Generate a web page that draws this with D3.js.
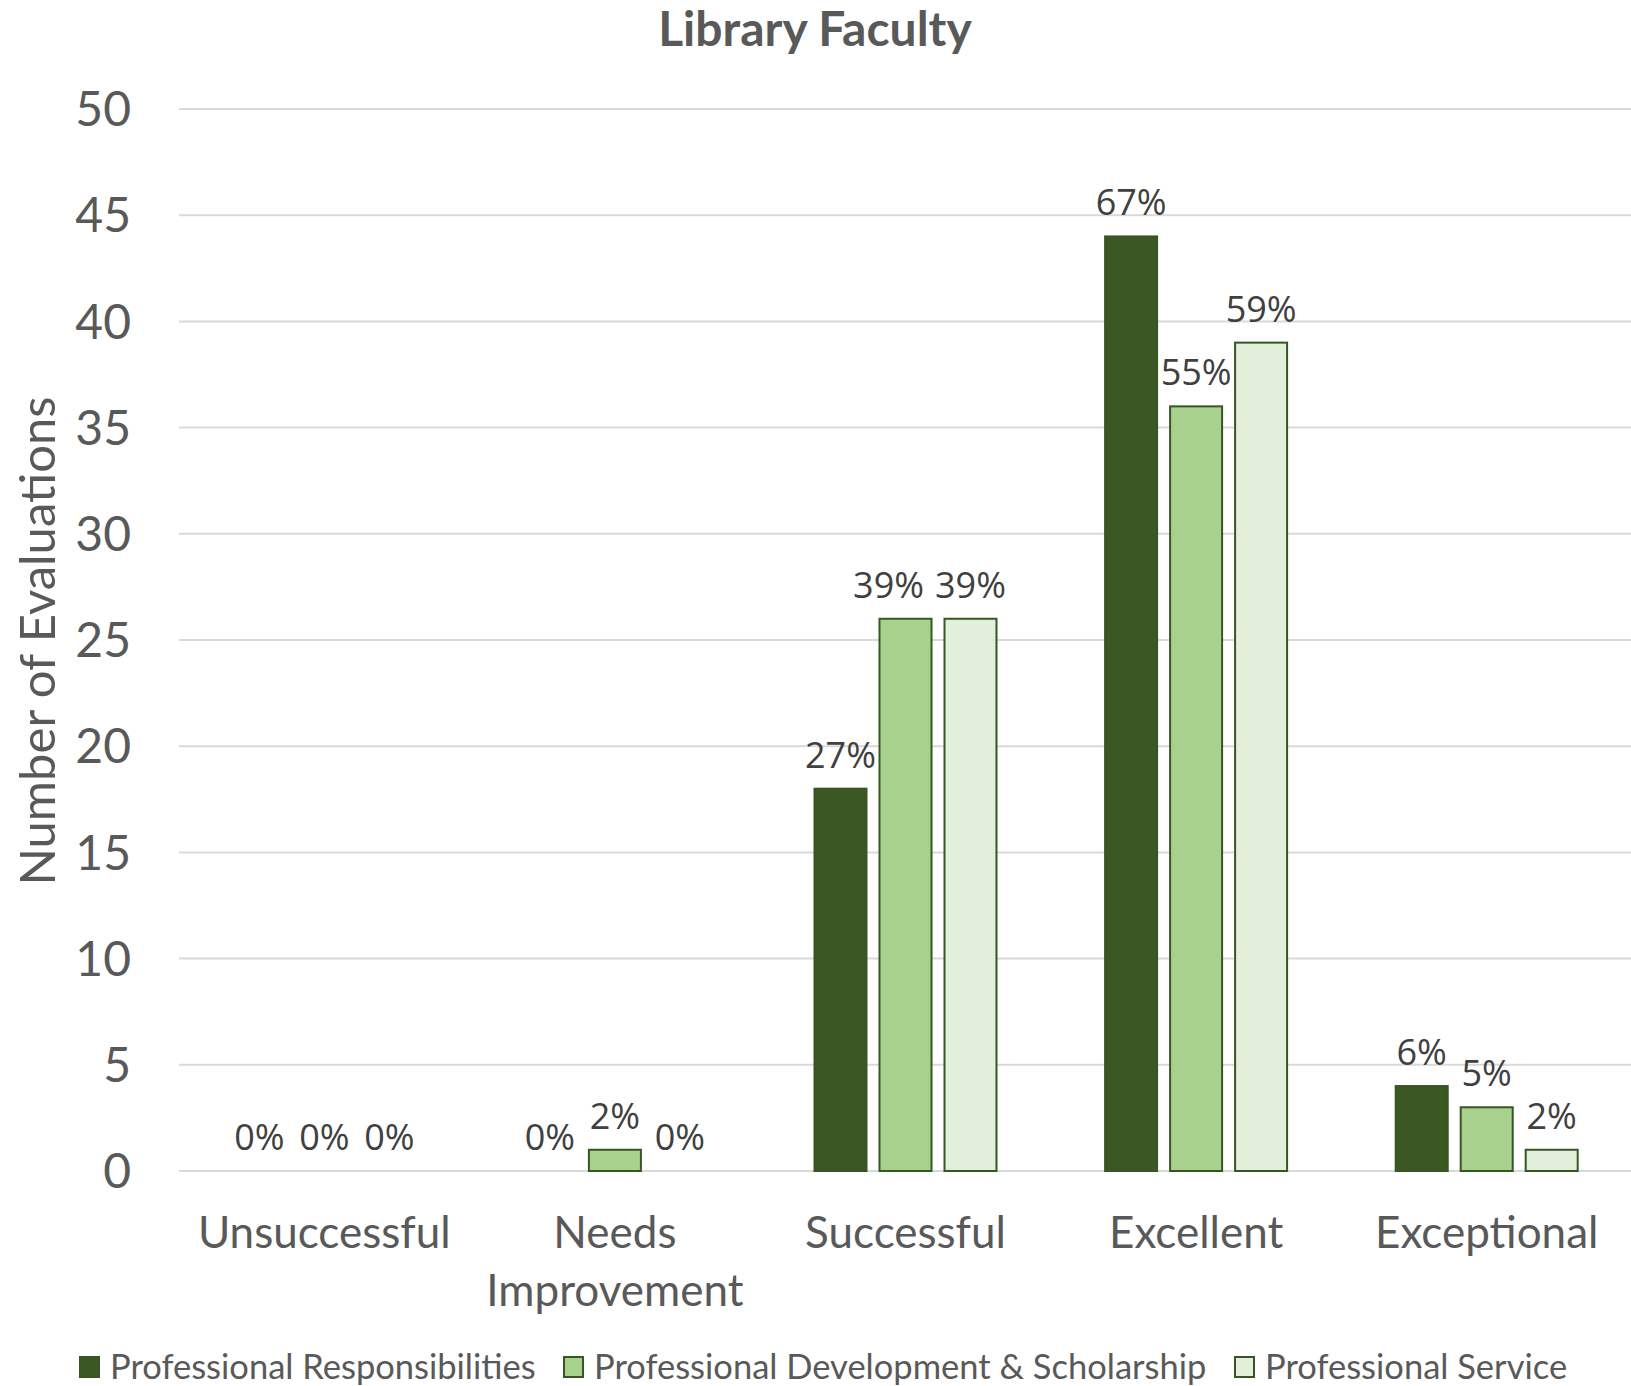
<!DOCTYPE html>
<meta charset="utf-8">
<head>
    <title>Library Faculty</title>
    <script src="https://d3js.org/d3.v7.min.js"></script>
    <style>
        body { margin: 0; background: #fff; }
        text { font-family: Lato, "Open Sans", sans-serif; }
    </style>
</head>
<body>
    <div id="chart"></div>
</body>
<script>

const width = 1631;
const height = 1386;

// data
const categories = ["Unsuccessful", "Needs Improvement", "Successful", "Excellent", "Exceptional"];
const seriesNames = ["Professional Responsibilities", "Professional Development & Scholarship", "Professional Service"];
const responsibilities = [0, 0, 18, 44, 4];
const development = [0, 1, 26, 36, 3];
const service = [0, 0, 26, 39, 1];
const respLabels = ["0%", "0%", "27%", "67%", "6%"];
const devLabels = ["0%", "2%", "39%", "55%", "5%"];
const servLabels = ["0%", "0%", "39%", "59%", "2%"];
const yTicks = [0, 5, 10, 15, 20, 25, 30, 35, 40, 45, 50];

const colors = ["#3b5724", "#a9d18e", "#e2efda"];
const seriesValues = [responsibilities, development, service];
const seriesLabels = [respLabels, devLabels, servLabels];

const svg = d3.select("#chart")
              .append("svg")
                .attr("width", width)
                .attr("height", height);

const x = d3.scaleBand()
            .domain(categories)
            .range([179, 1632]);

const groupWidth = 182;
const xs = d3.scaleBand()
             .domain(d3.range(3))
             .range([0, groupWidth])
             .paddingInner(0.2);

const y = d3.scaleLinear()
            .domain([0, 50])
            .range([1171, 109]);

// gridlines
svg.append("g")
    .selectAll("line")
    .data(yTicks).enter()
    .append("line")
        .attr("x1", 179)
        .attr("x2", 1632)
        .attr("y1", function(d) { return y(d); })
        .attr("y2", function(d) { return y(d); })
        .attr("stroke", "#d9d9d9")
        .attr("stroke-width", 2);

// y tick labels
svg.append("g")
    .selectAll("text")
    .data(yTicks).enter()
    .append("text")
        .attr("x", 131)
        .attr("y", function(d) { return y(d); })
        .attr("dy", "0.36em")
        .attr("text-anchor", "end")
        .attr("fill", "#595959")
        .style("font-size", "48px")
        .text(function(d) { return d; });

// bars
const rows = [];
categories.forEach(function(c, i) {
    seriesValues.forEach(function(vals, s) {
        rows.push({ cat: c, s: s, value: vals[i], label: seriesLabels[s][i] });
    });
});

function barX(d) {
    return x(d.cat) + (x.bandwidth() - groupWidth) / 2 + xs(d.s);
}

svg.append("g")
    .selectAll("rect")
    .data(rows.filter(function(d) { return d.value > 0; })).enter()
    .append("rect")
        .attr("x", barX)
        .attr("y", function(d) { return y(d.value); })
        .attr("width", xs.bandwidth())
        .attr("height", function(d) { return y(0) - y(d.value); })
        .attr("fill", function(d) { return colors[d.s]; })
        .attr("stroke", "#375623")
        .attr("stroke-width", 2);

// data labels
const labels = svg.append("g")
    .selectAll("text")
    .data(rows).enter()
    .append("text")
        .attr("x", function(d) { return barX(d) + xs.bandwidth() / 2; })
        .attr("y", function(d) { return y(d.value) - 21; })
        .attr("text-anchor", "middle")
        .attr("fill", "#404040")
        .style("font-family", "'Open Sans', sans-serif")
        .style("font-size", "36px")
        .text(function(d) { return d.label; });

// nudge labels left when they collide with the next one (like Excel does)
const labelNodes = labels.nodes();
for (let i = labelNodes.length - 2; i >= 0; i--) {
    const a = labelNodes[i], b = labelNodes[i + 1];
    if (a.__data__.cat !== b.__data__.cat) continue;
    const ba = a.getBBox(), bb = b.getBBox();
    const vOverlap = ba.y < bb.y + bb.height && bb.y < ba.y + ba.height;
    const gap = 11;
    if (vOverlap && ba.x + ba.width + gap > bb.x) {
        const shift = ba.x + ba.width + gap - bb.x;
        a.setAttribute("x", +a.getAttribute("x") - shift);
    }
}

// category labels
const catLabels = svg.append("g")
    .selectAll("text")
    .data(categories).enter()
    .append("text")
        .attr("x", function(d) { return x(d) + x.bandwidth() / 2; })
        .attr("y", 1248)
        .attr("text-anchor", "middle")
        .attr("fill", "#595959")
        .style("font-size", "44px");

catLabels.each(function(d) {
    const words = d === "Needs Improvement" ? ["Needs", "Improvement"] : [d];
    const t = d3.select(this);
    words.forEach(function(w, i) {
        t.append("tspan")
            .attr("x", x(d) + x.bandwidth() / 2)
            .attr("dy", i === 0 ? 0 : 58)
            .text(w);
    });
});

// title
svg.append("text")
    .attr("x", 815)
    .attr("y", 46)
    .attr("text-anchor", "middle")
    .attr("fill", "#595959")
    .style("font-size", "48px")
    .style("font-weight", "bold")
    .text("Library Faculty");

// y axis title
svg.append("text")
    .attr("transform", "translate(55,641) rotate(-90)")
    .attr("text-anchor", "middle")
    .attr("fill", "#595959")
    .style("font-size", "49px")
    .text("Number of Evaluations");

// legend
const legendX = [79, 563, 1234];
const legend = svg.append("g")
    .selectAll("g")
    .data(seriesNames).enter()
    .append("g")
        .attr("transform", function(d, i) { return `translate(${legendX[i]},1367)`; });

legend.append("rect")
    .attr("x", 1)
    .attr("y", -10)
    .attr("width", 19)
    .attr("height", 20)
    .attr("fill", function(d, i) { return colors[i]; })
    .attr("stroke", "#375623")
    .attr("stroke-width", 2);

legend.append("text")
    .attr("x", 31)
    .attr("y", 0)
    .attr("dy", "0.36em")
    .attr("fill", "#595959")
    .style("font-size", "34.5px")
    .text(function(d) { return d; });

</script>
